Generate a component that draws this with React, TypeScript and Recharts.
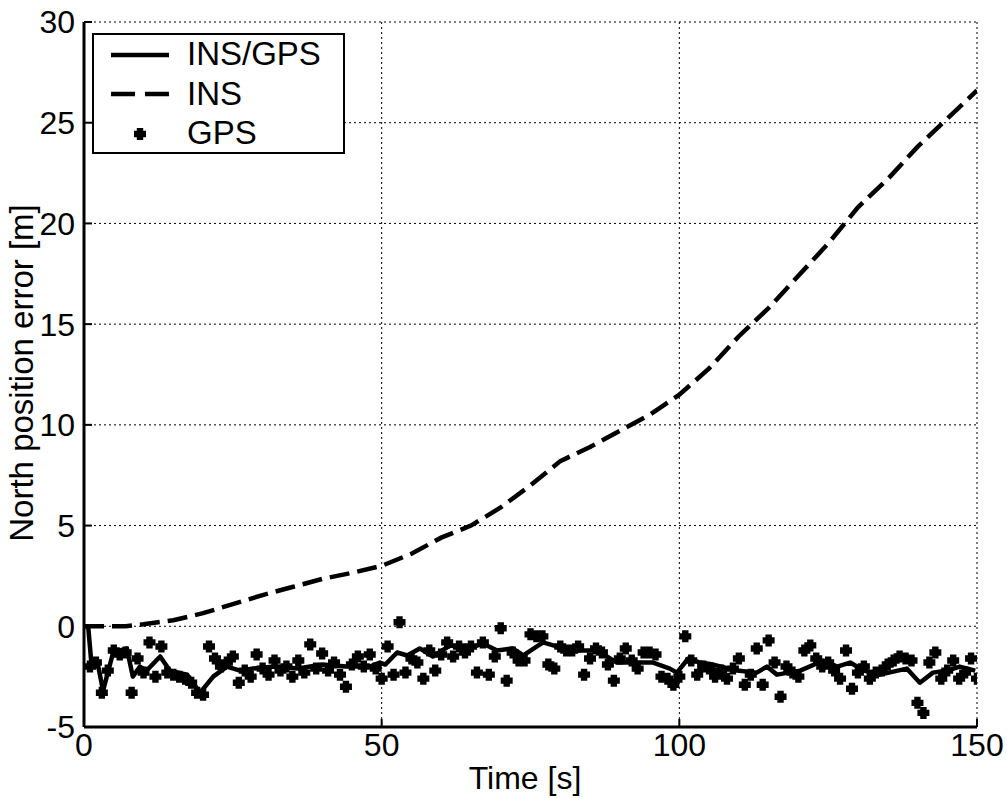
import { ComposedChart, Line, Scatter, XAxis, YAxis, CartesianGrid } from 'recharts'

// INS only (dashed), sampled every 5 s
const insTime = [0, 5, 7, 10, 15, 20, 25, 30, 35, 40, 45, 50, 55, 60, 65, 70, 75, 80, 85, 90, 95, 100, 105, 110, 115, 120, 125, 130, 135, 140, 145, 150]
const insValue = [0, 0, 0, 0.1, 0.3, 0.65, 1.1, 1.55, 1.95, 2.35, 2.65, 3.0, 3.6, 4.4, 5.0, 5.9, 7.0, 8.2, 8.9, 9.7, 10.5, 11.5, 12.8, 14.4, 15.8, 17.4, 19.0, 20.8, 22.2, 23.8, 25.2, 26.6]

// INS/GPS (solid)
const fusedTime = [0, 0.7, 1.2, 2.2, 3.2, 4.9, 7.2, 8.2, 9.4, 10.5, 12.8, 14.4, 17.3, 19.5, 21.7, 24, 26.2, 28.4, 32, 36, 40, 44, 48, 49.7, 50.6, 52.6, 54.3, 56.4, 58.6, 61.5, 64.8, 67, 69.4, 72, 73.8, 77.1, 79.4, 82.8, 86.2, 89.5, 91.7, 95.6, 98.4, 99.6, 101.5, 103.5, 105.7, 109.7, 113, 114.7, 116.4, 120.3, 124.2, 126.5, 128.7, 131, 133.7, 138.2, 140.4, 142.6, 145, 147.1, 149.7]
const fusedValue = [0, 0, -1.7, -1.7, -3.2, -1.3, -1.1, -2.5, -2.0, -2.2, -1.5, -2.2, -2.4, -3.3, -2.5, -2.0, -2.2, -2.1, -2.0, -2.1, -1.9, -2.0, -2.0, -1.8, -1.9, -1.3, -1.45, -1.1, -1.5, -0.95, -1.1, -0.85, -1.2, -1.1, -1.45, -0.8, -1.0, -1.2, -1.2, -1.8, -1.8, -1.8, -2.1, -2.3, -1.6, -1.8, -1.9, -2.2, -2.3, -2.0, -2.4, -2.2, -1.7, -2.0, -1.8, -2.2, -2.4, -2.1, -2.8, -2.3, -2.2, -2.0, -2.2]

// GPS fixes, one per second from t = 1 s
const gpsValue = [
  -2.0, -1.8, -3.3, -2.2, -1.2, -1.4, -1.3, -3.3, -1.6, -2.3,
  -0.8, -2.5, -1.0, -2.3, -2.4, -2.5, -2.6, -2.8, -3.3, -3.4,
  -1.0, -1.6, -2.0, -1.8, -1.5, -2.8, -2.2, -2.5, -1.4, -2.1,
  -2.4, -1.7, -2.2, -2.0, -2.5, -1.7, -2.3, -0.9, -2.1, -1.35,
  -2.2, -1.8, -2.4, -3.0, -1.9, -1.5, -2.0, -1.4, -2.1, -2.6,
  -1.0, -2.4, 0.2, -2.3, -1.6, -1.8, -2.6, -1.2, -2.2, -1.4,
  -0.8, -1.5, -1.0, -1.3, -1.0, -2.3, -0.8, -2.4, -1.5, -0.1,
  -2.7, -1.3, -1.7, -1.7, -0.4, -0.5, -0.5, -1.9, -2.1, -1.0,
  -1.2, -1.2, -1.0, -2.4, -1.6, -1.1, -1.3, -1.9, -2.7, -1.6,
  -1.1, -1.7, -2.1, -1.3, -1.3, -1.4, -2.5, -2.6, -2.9, -2.5,
  -0.5, -1.7, -2.4, -2.0, -2.1, -2.5, -2.2, -2.6, -2.1, -1.6,
  -2.9, -2.4, -1.1, -2.9, -0.7, -1.8, -3.5, -2.0, -2.3, -2.5,
  -1.2, -0.95, -1.6, -2.0, -1.8, -2.2, -2.6, -1.2, -3.1, -2.3,
  -2.0, -2.6, -2.3, -2.2, -1.9, -1.7, -1.5, -1.6, -1.7, -3.8,
  -4.3, -1.8, -1.3, -2.6, -2.2, -1.7, -2.6, -2.3, -1.6, -2.6,
]

const xTicks = [0, 50, 100, 150]
const yTicks = [-5, 0, 5, 10, 15, 20, 25, 30]

const insData = insTime.map((x, i) => ({ x, y: insValue[i] }))
const fusedData = fusedTime.map((x, i) => ({ x, y: fusedValue[i] }))
const gpsData = gpsValue.map((y, i) => ({ x: i + 1, y }))

const FONT = '"Liberation Sans", Arial, Helvetica, sans-serif'
const tickStyle = { fill: '#000', fontSize: 32, fontFamily: FONT }
const axisLine = { stroke: '#000', strokeWidth: 3 }
const tickLine = { stroke: '#000', strokeWidth: 2 }

function plusPath(cx: number, cy: number) {
  const a = 3.2
  const b = 6
  return `M${cx - a},${cy - b}H${cx + a}V${cy - a}H${cx + b}V${cy + a}H${cx + a}V${cy + b}H${cx - a}V${cy + a}H${cx - b}V${cy - a}H${cx - a}Z`
}

function GpsMarker(props: any) {
  const { cx, cy } = props
  if (cx == null || cy == null) return <g />
  return <path d={plusPath(cx, cy)} fill="#000" />
}

const noLabel = () => <g />

function LegendBox() {
  return (
    <div
      style={{
        position: 'absolute',
        left: 92,
        top: 33,
        width: 253,
        height: 121,
        boxSizing: 'border-box',
        border: '2px solid #000',
        background: '#fff',
        fontFamily: FONT,
        fontSize: 33,
        color: '#000',
      }}
    >
      <svg width={90} height={121} style={{ position: 'absolute', left: 0, top: 0 }}>
        <line x1={17} x2={75} y1={20} y2={20} stroke="#000" strokeWidth={4.5} />
        <line x1={17} x2={75} y1={59} y2={59} stroke="#000" strokeWidth={4.5} strokeDasharray="24 10" />
        <path d={plusPath(46, 99)} fill="#000" />
      </svg>
      {['INS/GPS', 'INS', 'GPS'].map((t, i) => (
        <div key={t} style={{ position: 'absolute', left: 93, top: 20 + i * 39.5 - 20, lineHeight: '38px' }}>
          {t}
        </div>
      ))}
    </div>
  )
}

export default function App() {
  return (
    <div style={{ position: 'absolute', left: 0, top: 0, width: 1007, height: 798, background: '#fff', fontFamily: FONT }}>
      <ComposedChart width={1007} height={798} margin={{ top: 22, right: 30, bottom: 31, left: 24 }}>
        <CartesianGrid stroke="#000" strokeWidth={1} strokeDasharray="2 3" horizontalValues={yTicks} verticalValues={xTicks} />
        <XAxis
          dataKey="x"
          type="number"
          domain={[0, 150]}
          ticks={xTicks}
          height={40}
          axisLine={axisLine}
          tickLine={tickLine}
          tickSize={-8}
          tickMargin={14}
          tick={tickStyle}
          allowDataOverflow
          label={{
            content: () => (
              <text x={525} y={789} textAnchor="middle" fontSize={32} fontFamily={FONT} fill="#000">
                Time [s]
              </text>
            ),
          }}
        />
        <XAxis
          xAxisId="top"
          orientation="top"
          dataKey="x"
          type="number"
          domain={[0, 150]}
          ticks={xTicks}
          height={0}
          axisLine={axisLine}
          tickLine={tickLine}
          tickSize={-8}
          tick={noLabel}
        />
        <YAxis
          type="number"
          domain={[-5, 30]}
          ticks={yTicks}
          width={60}
          axisLine={axisLine}
          tickLine={tickLine}
          tickSize={-8}
          tickMargin={17}
          tick={tickStyle}
          allowDataOverflow
          label={{
            content: () => (
              <text x={33} y={373} transform="rotate(-90 33 373)" textAnchor="middle" fontSize={33} fontFamily={FONT} fill="#000">
                North position error [m]
              </text>
            ),
          }}
        />
        <YAxis
          yAxisId="right"
          orientation="right"
          type="number"
          domain={[-5, 30]}
          ticks={yTicks}
          width={0}
          axisLine={axisLine}
          tickLine={tickLine}
          tickSize={-8}
          tick={noLabel}
        />
        <Line
          data={insData}
          dataKey="y"
          type="linear"
          stroke="#000"
          strokeWidth={4.5}
          strokeDasharray="20 8"
          dot={false}
          isAnimationActive={false}
        />
        <Scatter data={gpsData} dataKey="y" fill="#000" shape={GpsMarker} isAnimationActive={false} />
        <Line
          data={fusedData}
          dataKey="y"
          type="linear"
          stroke="#000"
          strokeWidth={4.5}
          strokeLinejoin="round"
          dot={false}
          isAnimationActive={false}
        />
      </ComposedChart>
      <LegendBox />
    </div>
  )
}
